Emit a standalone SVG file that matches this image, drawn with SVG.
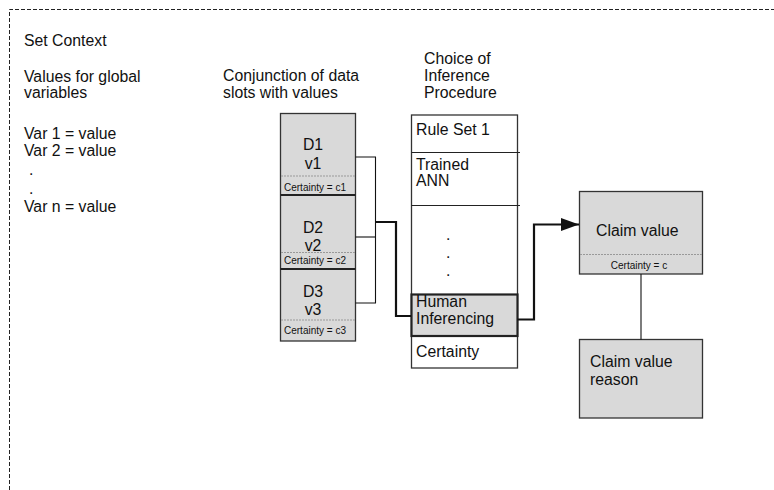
<svg xmlns="http://www.w3.org/2000/svg" width="774" height="490" viewBox="0 0 774 490">
<style>
text{font-family:"Liberation Sans",Arial,sans-serif;fill:#111;}
.t{font-size:15.8px;}
.s{font-size:10px;}
.box{fill:#d9d9d9;stroke:#333;stroke-width:1.3;}
.wbox{fill:#fff;stroke:#333;stroke-width:1.3;}
.sep{stroke:#999;stroke-width:1;stroke-dasharray:2 1;}
.thk{stroke:#222;stroke-width:2.2;fill:none;}
.thin{stroke:#222;stroke-width:1.1;fill:none;}
.con{stroke:#111;fill:none;}
</style>
<defs>
<marker id="arr2" markerWidth="18" markerHeight="13" refX="18" refY="6.5" orient="auto" markerUnits="userSpaceOnUse" viewBox="0 0 18 13">
<path d="M0,0 L18,6.5 L0,13 Z" fill="#111"/>
</marker>
</defs>
<path d="M9.5,490 V9.5 H774" fill="none" stroke="#222" stroke-width="1" stroke-dasharray="4 2"/>
<g id="context">
<text class="t" x="24" y="45.5">Set Context</text>
<text class="t" x="24" y="81.5">Values for global</text>
<text class="t" x="24" y="98">variables</text>
<text class="t" x="24" y="139">Var 1 = value</text>
<text class="t" x="24" y="155.5">Var 2 = value</text>
<text class="t" x="29" y="175">.</text>
<text class="t" x="29" y="193.5">.</text>
<text class="t" x="24" y="211.5">Var n = value</text>
</g>
<g id="data-slots">
<text class="t" x="223" y="80.5">Conjunction of data</text>
<text class="t" x="223" y="97.5">slots with values</text>
<rect class="box" x="280.5" y="113.5" width="75" height="227.5"/>
<line class="sep" x1="281" y1="176" x2="355" y2="176"/>
<line class="sep" x1="281" y1="252.5" x2="355" y2="252.5"/>
<line class="sep" x1="281" y1="320" x2="355" y2="320"/>
<line class="thk" x1="280.5" y1="195" x2="355.5" y2="195"/>
<line class="thk" x1="280.5" y1="269" x2="355.5" y2="269"/>
<g id="d1">
<text class="t" x="313" y="149.5" text-anchor="middle">D1</text>
<text class="t" x="313" y="168.5" text-anchor="middle">v1</text>
<text class="s" x="315" y="190.5" text-anchor="middle">Certainty = c1</text>
</g>
<g id="d2">
<text class="t" x="313" y="233" text-anchor="middle">D2</text>
<text class="t" x="313" y="250.5" text-anchor="middle">v2</text>
<text class="s" x="315" y="263.5" text-anchor="middle">Certainty = c2</text>
</g>
<g id="d3">
<text class="t" x="313" y="296.5" text-anchor="middle">D3</text>
<text class="t" x="313" y="315" text-anchor="middle">v3</text>
<text class="s" x="315" y="334" text-anchor="middle">Certainty = c3</text>
</g>
</g>
<g id="inference">
<text class="t" x="424" y="63.5">Choice of</text>
<text class="t" x="424" y="80.5">Inference</text>
<text class="t" x="424" y="97.5">Procedure</text>
<rect class="wbox" x="411.5" y="115" width="106" height="253"/>
<line class="thin" x1="411.5" y1="152.5" x2="520" y2="152.5"/>
<line class="thin" x1="411.5" y1="205.5" x2="520" y2="205.5"/>
<text class="t" x="416" y="134.5">Rule Set 1</text>
<text class="t" x="416" y="169.5">Trained</text>
<text class="t" x="416" y="186">ANN</text>
<text class="t" x="446" y="240">.</text>
<text class="t" x="446" y="258">.</text>
<text class="t" x="446" y="276">.</text>
<g id="human">
<rect x="411.5" y="294.5" width="106" height="41.5" fill="#d9d9d9" stroke="#222" stroke-width="2.2"/>
<text class="t" x="416" y="307">Human</text>
<text class="t" x="416" y="324">Inferencing</text>
</g>
<text class="t" x="416" y="357">Certainty</text>
</g>
<g id="claim">
<rect class="box" x="579.5" y="191.5" width="123" height="82.5"/>
<line class="sep" x1="580" y1="254.5" x2="702" y2="254.5"/>
<text class="t" x="596" y="236">Claim value</text>
<text class="s" x="639" y="269" text-anchor="middle">Certainty = c</text>
</g>
<g id="reason">
<rect class="box" x="579.5" y="339.5" width="123" height="78.5"/>
<text class="t" x="590" y="367">Claim value</text>
<text class="t" x="590" y="385">reason</text>
</g>
<g id="connectors">
<path class="con" stroke-width="1.1" d="M355.5,157 H375.5 V303 H355.5"/>
<path class="con" stroke-width="1.1" d="M355.5,237 H375.5"/>
<path class="con" stroke-width="2.2" d="M375.5,222 H396 V316 H411"/>
<path class="con" stroke-width="2.2" d="M517.5,319.5 H534 V224.5 H579" marker-end="url(#arr2)"/>
<path class="con" stroke-width="1.1" stroke="#444" d="M641,274 V339.5"/>
</g>
</svg>
